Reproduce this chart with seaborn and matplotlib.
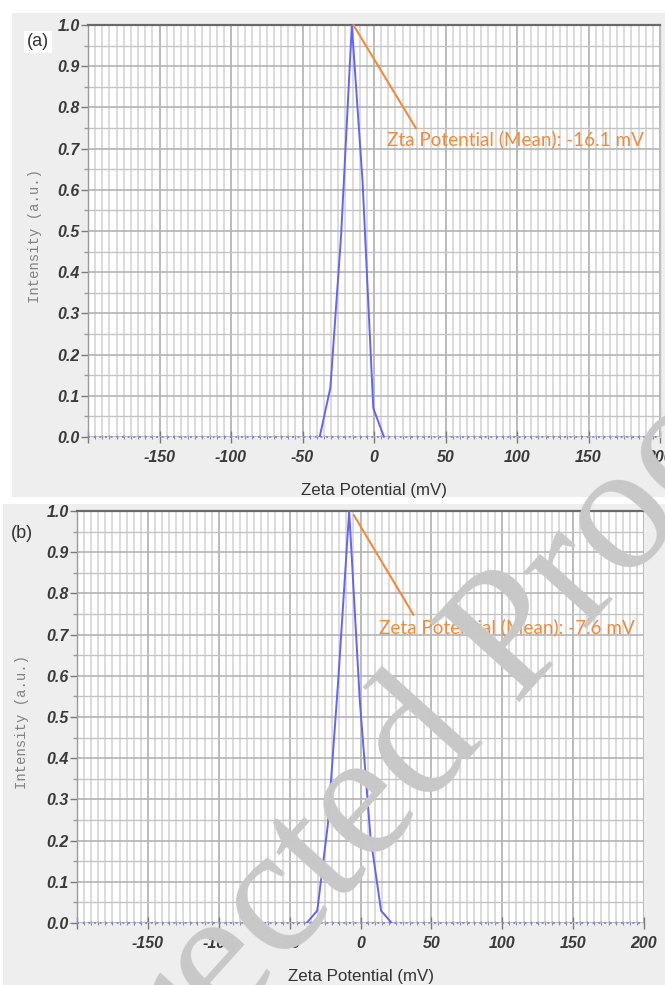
import numpy as np
import pandas as pd
import matplotlib
matplotlib.use("Agg")
import matplotlib.pyplot as plt
from matplotlib.ticker import MultipleLocator, FuncFormatter
from matplotlib.patches import Rectangle
import seaborn as sns

# ---------------- data ----------------
zeta_a = [-38, -30.5, -23, -15.5, -8, -0.5, 7]
intensity_a = [0.0, 0.12, 0.49, 1.0, 0.62, 0.07, 0.0]
zeta_b = [-38, -30.5, -23, -15.5, -8, -0.5, 7, 14.5, 22]
intensity_b = [0.0, 0.03, 0.24, 0.60, 1.0, 0.54, 0.21, 0.03, 0.0]
mean_a = -16.1
mean_b = -7.6
label_a = "Zta Potential (Mean): -16.1 mV"
label_b = "Zeta Potential (Mean): -7.6 mV"
panel_labels = ["(a)", "(b)"]
x_ticks = [-200, -150, -100, -50, 0, 50, 100, 150, 200]
y_ticks = [0.0, 0.1, 0.2, 0.3, 0.4, 0.5, 0.6, 0.7, 0.8, 0.9, 1.0]
xlabel = "Zeta Potential (mV)"
ylabel = "Intensity (a.u.)"
watermark = "Corrected Proof"

sns.set_theme(style="white")
plt.rcParams["font.family"] = ["Liberation Sans", "DejaVu Sans"]

W, H = 665, 985
fig = plt.figure(figsize=(W / 100, H / 100), dpi=100)
fig.patch.set_facecolor("white")

def fx(px):
    return px / W

def fy(py):
    return 1 - py / H

# panel backgrounds
fig.patches.append(Rectangle((fx(12), fy(497)), fx(665) - fx(12), fy(13) - fy(497),
                             transform=fig.transFigure, facecolor="#eeeeee",
                             edgecolor="none", zorder=-10))
fig.patches.append(Rectangle((fx(3), 0), fx(665) - fx(3), fy(504),
                             transform=fig.transFigure, facecolor="#eeeeee",
                             edgecolor="none", zorder=-10))

orange = "#f28a3c"
blue = "#6262ff"

panels = [
    dict(box=(88, 660, 25, 437), x=zeta_a, y=intensity_a, label=label_a,
         line_start=(-14.4, 1.0), line_end=(29.4, 0.749), text_pos=(8.9, 0.722),
         plabel=panel_labels[0], plabel_pos=(27, 42), ylab_x=35, right_spine=True),
    dict(box=(77, 644, 511, 923), x=zeta_b, y=intensity_b, label=label_b,
         line_start=(-4.7, 0.99), line_end=(37.4, 0.748), text_pos=(12.9, 0.719),
         plabel=panel_labels[1], plabel_pos=(11, 533), ylab_x=22, right_spine=False),
]

for p in panels:
    l, r, t, b = p["box"]
    ax = fig.add_axes([fx(l), fy(b), fx(r) - fx(l), fy(t) - fy(b)])
    ax.set_facecolor("white")
    ax.set_xlim(-200, 200)
    ax.set_ylim(0, 1.0)

    ax.xaxis.set_major_locator(MultipleLocator(50))
    ax.xaxis.set_minor_locator(MultipleLocator(5))
    ax.yaxis.set_major_locator(MultipleLocator(0.1))
    ax.yaxis.set_minor_locator(MultipleLocator(0.05))
    ax.set_xticks(x_ticks)
    ax.set_yticks(y_ticks)
    ax.xaxis.set_major_formatter(FuncFormatter(lambda v, pos: "" if v <= -200 else f"{v:g}"))
    ax.yaxis.set_major_formatter(FuncFormatter(lambda v, pos: f"{v:.1f}"))

    ax.grid(True, which="minor", axis="x", color="#d2d2d2", lw=1.1, zorder=0)
    ax.grid(True, which="major", axis="x", color="#a8a8a8", lw=1.1, zorder=0)
    ax.grid(True, which="minor", axis="y", color="#c4c4c4", lw=1.0, zorder=0)
    ax.grid(True, which="major", axis="y", color="#b4b4b4", lw=1.2, zorder=0)
    ax.set_axisbelow(True)

    ax.spines["bottom"].set_visible(False)
    ax.spines["top"].set_color("#6a6a6a")
    ax.spines["top"].set_linewidth(1.6)
    ax.spines["left"].set_color("#9a9a9a")
    ax.spines["left"].set_linewidth(1.0)
    ax.spines["right"].set_color("#c0c0c0")
    ax.spines["right"].set_linewidth(1.0)
    ax.spines["right"].set_visible(p["right_spine"])

    ax.tick_params(axis="x", which="major", direction="inout", length=8, width=1,
                   color="#7a7a7a", pad=5, bottom=True)
    ax.tick_params(axis="x", which="minor", direction="inout", length=3, width=0.8,
                   color="#8a8aa8", bottom=True)
    ax.tick_params(axis="y", which="major", direction="out", length=5, width=1,
                   color="#7a7a7a", pad=1, left=True)
    ax.tick_params(axis="y", which="minor", direction="out", length=3, width=1,
                   color="#9a9a9a", left=True)
    for lab in ax.get_xticklabels():
        lab.set_fontstyle("italic")
        lab.set_fontweight("bold")
        lab.set_fontsize(11.5)
        lab.set_color("#3a3a3a")
    for lab in ax.get_yticklabels():
        lab.set_fontstyle("italic")
        lab.set_fontweight("bold")
        lab.set_fontsize(11.5)
        lab.set_color("#3a3a3a")

    # zero baseline (dotted) and the distribution
    ax.axhline(0, color="#8080d8", lw=1.2, ls=(0, (1.2, 2.2)), zorder=3, clip_on=False)
    df = pd.DataFrame({"zeta": p["x"], "intensity": p["y"]})
    sns.lineplot(data=df, x="zeta", y="intensity", ax=ax, color=blue, lw=1.4,
                 sort=False, estimator=None, zorder=4)
    ax.set_xlabel("")
    ax.set_ylabel("")

    # annotation
    (x0, y0), (x1, y1) = p["line_start"], p["line_end"]
    ax.plot([x0, x1], [y0, y1], color=orange, lw=1.5, zorder=5, clip_on=False)
    ax.text(p["text_pos"][0], p["text_pos"][1], p["label"], color=orange,
            fontsize=13.6, family=["Lato", "DejaVu Sans"], ha="left", va="center", zorder=6)

    # axis labels as figure text
    fig.text(fx((l + r) / 2), fy(b + 54), xlabel, ha="center", va="center",
             fontsize=12.2, color="#333333")
    fig.text(fx(p["ylab_x"]), fy((t + b) / 2 + 5), ylabel, ha="center", va="center",
             rotation=90, fontsize=10, color="#808080",
             family=["Liberation Mono", "DejaVu Sans Mono"])
    fig.text(fx(p["plabel_pos"][0]), fy(p["plabel_pos"][1]), p["plabel"], ha="left",
             va="center", fontsize=13, color="#333333",
             bbox=dict(facecolor="white", edgecolor="none", pad=2) if p["plabel"] == "(a)" else None)

# watermark
fig.text(fx(2), fy(1278), watermark, rotation=48, rotation_mode="anchor",
         ha="left", va="baseline", fontsize=132, color="#c8c8c8",
         family=["Liberation Serif", "DejaVu Serif"], zorder=50)

fig.savefig("out.png", dpi=100, facecolor=fig.get_facecolor())
